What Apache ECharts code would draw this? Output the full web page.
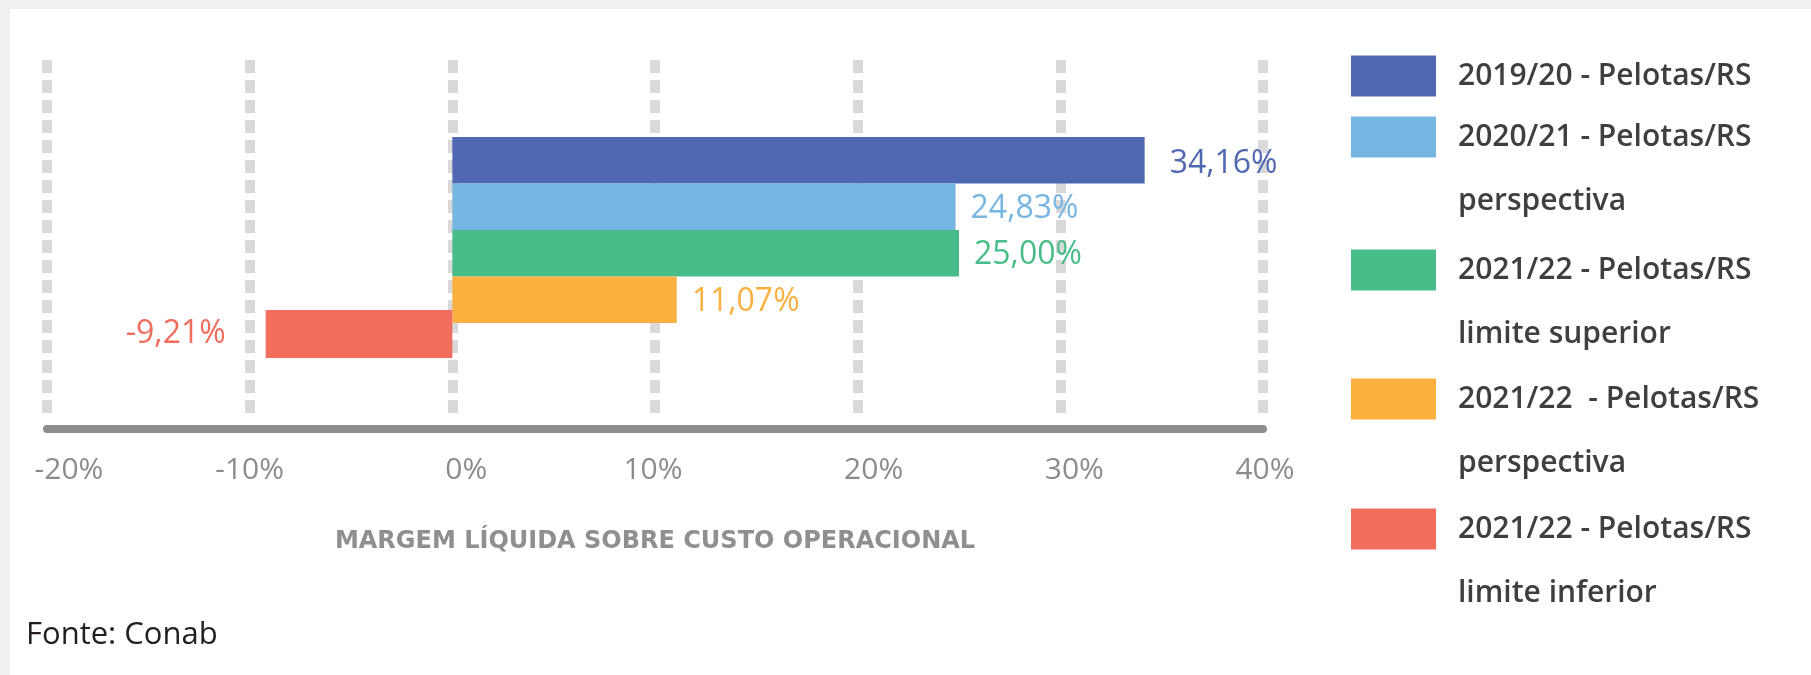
<!DOCTYPE html>
<html>
<head>
<meta charset="utf-8">
<script src="https://cdn.jsdelivr.net/npm/echarts@6/dist/echarts.min.js"></script>
<style>
    html, body { margin: 0; padding: 0; background: #fff; }
    #chart { width: 1811px; height: 675px; }
    .frameTop { position: absolute; left: 0; top: 0; width: 1811px; height: 9px; background: #f0f0f0; }
    .frameLeft { position: absolute; left: 0; top: 0; width: 10px; height: 675px; background: #f0f0f0; }
</style>
</head>
<body>
<div id="chart"></div>
<div class="frameTop"></div>
<div class="frameLeft"></div>
<script>
// séries (safras) e valores de margem líquida (%)
var seriesNames = [
    '2019/20 - Pelotas/RS',
    '2020/21 - Pelotas/RS\nperspectiva',
    '2021/22 - Pelotas/RS\nlimite superior',
    '2021/22  - Pelotas/RS\nperspectiva',
    '2021/22 - Pelotas/RS\nlimite inferior'
];
var values = [34.16, 24.83, 25.00, 11.07, -9.21];
var barColors = ['#5068b1', '#77b5e3', '#48bd89', '#fbb040', '#f16e5c'];
var xTicks = [-20, -10, 0, 10, 20, 30, 40];
var axisTitle = 'MARGEM LÍQUIDA SOBRE CUSTO OPERACIONAL';
var sourceText = 'Fonte: Conab';

function fmtPct(v) {
    return v.toFixed(2).replace('.', ',') + '%';
}

var chart = echarts.init(document.getElementById('chart'));

var xMin = xTicks[0];
var xMax = xTicks[xTicks.length - 1];
var xStep = xTicks[1] - xTicks[0];

// os rotulos do eixo no original nao estao bem centrados
var tickShift = [22, 0, 14, -2, 16, 14, 2];
var tickRich = {};
xTicks.forEach(function (t, k) {
    var s = tickShift[k];
    tickRich['t' + k] = { padding: s >= 0 ? [0, 0, 0, 2 * s] : [0, -2 * s, 0, 0] };
});

// as 4 primeiras barras ficam juntas, a ultima (limite inferior) um pouco sobreposta
var topCats = seriesNames.slice(0, 4);
var series = [];
for (var i = 0; i < 4; i++) {
    var d = [];
    for (var j = 0; j < 4; j++) {
        d.push(j === i ? values[i] : '-');
    }
    series.push({
        name: seriesNames[i],
        type: 'bar',
        xAxisIndex: 1,
        yAxisIndex: 1,
        stack: 'all',
        barWidth: '100%',
        data: d,
        itemStyle: { color: barColors[i] },
        label: {
            show: true,
            position: 'right',
            distance: i === 0 ? 25 : 15,
            offset: i === 0 ? [0, 4] : [0, 2],
            color: barColors[i],
            fontFamily: 'Open Sans',
            fontSize: 32,
            formatter: function (p) { return fmtPct(p.value); }
        }
    });
}
series.push({
    name: seriesNames[4],
    type: 'bar',
    xAxisIndex: 2,
    yAxisIndex: 2,
    barWidth: '100%',
    data: [values[4]],
    itemStyle: { color: barColors[4] },
    label: {
        show: true,
        position: 'left',
        distance: 40,
        color: barColors[4],
        fontFamily: 'Open Sans',
        fontSize: 32,
        formatter: function (p) { return fmtPct(p.value); }
    }
});

// uma legenda por item, o quadrado alinhado com a primeira linha do texto
var legendTops = [44, 41, 174, 303, 433];
var legends = seriesNames.map(function (n, idx) {
    return {
        orient: 'vertical',
        left: 1351,
        top: legendTops[idx],
        padding: 0,
        itemWidth: 85,
        itemHeight: 41,
        icon: 'rect',
        selectedMode: false,
        formatter: function (name) {
            return name.indexOf('\n') >= 0 ? '\n' + name : name;
        },
        textStyle: {
            fontFamily: 'Open Sans', fontSize: 30, fontWeight: 600,
            color: '#3f3f3f', lineHeight: 64, padding: [0, 0, 0, 17]
        },
        data: [n]
    };
});

var option = {
    animation: false,
    color: barColors,
    title: {
        text: sourceText,
        left: 26,
        top: 620,
        padding: 0,
        textStyle: { fontFamily: 'Open Sans', fontSize: 31, fontWeight: 'normal', color: '#231f20' }
    },
    legend: legends,
    grid: [
        { left: 47, right: 548, top: 60, bottom: 260 },
        { left: 47, right: 548, top: 137, height: 186 },
        { left: 47, right: 548, top: 310, height: 48 },
        { left: 47, right: 548, top: 425, height: 4 }
    ],
    xAxis: [
        {
            gridIndex: 0,
            type: 'value',
            min: xMin,
            max: xMax,
            interval: xStep,
            axisLine: { show: false },
            axisTick: { show: false },
            axisLabel: { show: false },
            splitLine: { show: true, lineStyle: { color: '#d9d9d9', width: 10, type: [13, 7] } }
        },
        { gridIndex: 1, type: 'value', min: xMin, max: xMax, show: false, splitLine: { show: false } },
        { gridIndex: 2, type: 'value', min: xMin, max: xMax, show: false, splitLine: { show: false } },
        {
            gridIndex: 3,
            type: 'value',
            min: xMin,
            max: xMax,
            interval: xStep,
            name: axisTitle,
            nameLocation: 'middle',
            nameGap: 101,
            nameTextStyle: { fontFamily: 'DejaVu Sans', fontWeight: 'bold', fontSize: 24, color: '#8f8f8f' },
            axisLine: { show: true, lineStyle: { color: '#8e8e8e', width: 8 } },
            axisTick: { show: false },
            axisLabel: {
                margin: 26,
                fontFamily: 'Open Sans',
                fontSize: 30,
                color: '#8c8c8c',
                formatter: function (v) {
                    var k = xTicks.indexOf(v);
                    return '{t' + k + '|' + v + '%}';
                },
                rich: tickRich
            },
            splitLine: { show: false }
        }
    ],
    yAxis: [
        { gridIndex: 0, type: 'value', show: false, splitLine: { show: false } },
        { gridIndex: 1, type: 'category', inverse: true, data: topCats, show: false },
        { gridIndex: 2, type: 'category', data: [seriesNames[4]], show: false },
        { gridIndex: 3, type: 'value', show: false, splitLine: { show: false } }
    ],
    series: series
};
chart.setOption(option);
</script>
</body>
</html>
